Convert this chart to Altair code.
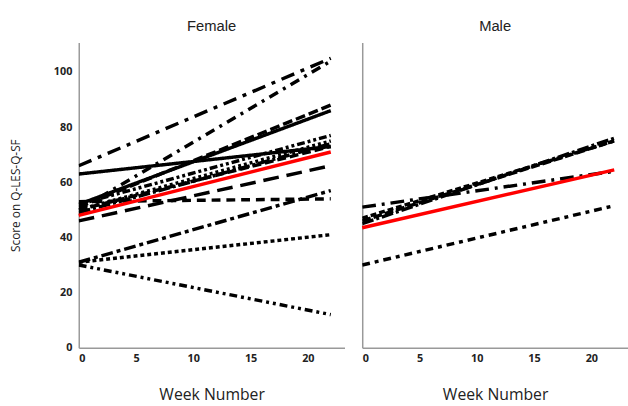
import altair as alt
import pandas as pd

weeks = [0, 22]

female_ids = ["F01", "F02", "F03", "F04", "F05", "F06", "F07", "F08", "F09", "F10", "F11", "F12", "F13", "F14"]
female_start = [66, 50, 63, 52, 51, 52, 50, 50, 49, 46, 53, 31, 31, 30]
female_end = [105, 104, 73, 86, 88, 77, 75, 73, 74, 66, 54, 57, 41, 12]

male_ids = ["M01", "M02", "M03", "M04", "M05"]
male_start = [51, 46, 45, 47, 30]
male_end = [64, 75, 76, 75, 51.5]

mean_female = [48, 71]
mean_male = [43.5, 64.5]

dash_patterns = {
    "F01": [14, 7, 4, 7], "F02": [10, 6, 3, 6], "F03": [1, 0], "F04": [1, 0],
    "F05": [10, 4], "F06": [8, 3, 3, 3, 3, 3], "F07": [3, 3], "F08": [9, 4],
    "F09": [12, 3, 3, 3], "F10": [16, 8], "F11": [9, 6], "F12": [12, 4, 4, 4],
    "F13": [4, 3], "F14": [8, 4, 3, 4, 3, 4],
    "M01": [14, 6, 3, 6], "M02": [9, 3], "M03": [12, 3, 3, 3], "M04": [6, 3],
    "M05": [8, 5, 4, 5],
}


def build(ids, starts, ends):
    rows = []
    for i, s, e in zip(ids, starts, ends):
        rows.append({"id": i, "week": weeks[0], "score": s})
        rows.append({"id": i, "week": weeks[1], "score": e})
    return pd.DataFrame(rows)


fem_df = build(female_ids, female_start, female_end)
male_df = build(male_ids, male_start, male_end)
fem_mean = pd.DataFrame({"week": weeks, "score": mean_female})
male_mean = pd.DataFrame({"week": weeks, "score": mean_male})

W, H = 270, 310
xscale = alt.Scale(domain=[0, 23.2], nice=False, zero=True)
yscale = alt.Scale(domain=[0, 110.7], nice=False)


def panel(df, mean_df, ids, title, show_y):
    yaxis = alt.Axis(
        title="Score on Q-LES-Q-SF" if show_y else None,
        values=[0, 20, 40, 60, 80, 100], grid=False, ticks=False,
        labels=show_y, labelFont="Open Sans", labelFontWeight="bold", labelFontSize=11,
        labelColor="#222", labelPadding=7, domainColor="#999", domainWidth=1.5,
        titleFont="Open Sans", titleFontWeight="normal", titleFontSize=12,
        titleColor="#222", titlePadding=31,
    )
    xaxis = alt.Axis(
        title="Week Number", values=[0, 5, 10, 15, 20], grid=False, ticks=False,
        labelFont="Open Sans", labelFontWeight="bold", labelFontSize=11,
        labelColor="#222", labelPadding=5, domainColor="#999", domainWidth=1.5,
        titleFont="Open Sans", titleFontWeight="normal", titleFontSize=16,
        titleColor="#222", titlePadding=24,
    )
    lines = alt.Chart(df).mark_line(color="black", strokeWidth=3.5, clip=True).encode(
        x=alt.X("week:Q", scale=xscale, axis=xaxis),
        y=alt.Y("score:Q", scale=yscale, axis=yaxis),
        detail="id:N",
        strokeDash=alt.StrokeDash(
            "id:N",
            scale=alt.Scale(domain=ids, range=[dash_patterns[i] for i in ids]),
            legend=None,
        ),
    )
    mean = alt.Chart(mean_df).mark_line(color="#ff0000", strokeWidth=3.5).encode(
        x=alt.X("week:Q", scale=xscale),
        y=alt.Y("score:Q", scale=yscale),
    )
    return alt.layer(lines, mean).properties(
        width=W, height=H,
        title=alt.TitleParams(title, font="Liberation Sans", fontSize=15,
                              fontWeight="normal", color="#222", offset=9),
    )


chart = alt.hconcat(
    panel(fem_df, fem_mean, female_ids, "Female", True),
    panel(male_df, male_mean, male_ids, "Male", False),
    spacing=11,
).resolve_scale(strokeDash="independent").properties(
    padding={"left": 10, "top": 16, "right": 0, "bottom": 0}
).configure_view(stroke=None)

chart.save("out.html", embed_options={"renderer": "svg", "actions": False})
